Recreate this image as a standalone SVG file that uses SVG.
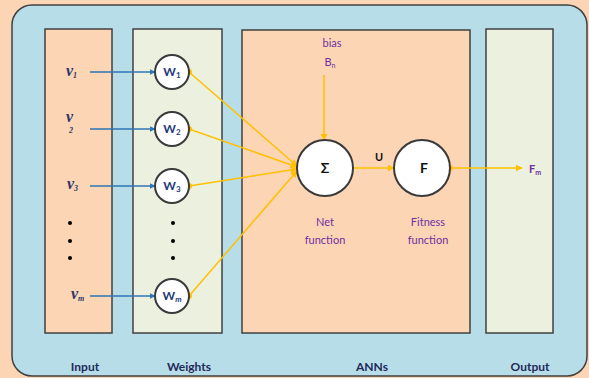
<svg xmlns="http://www.w3.org/2000/svg" width="589" height="378" viewBox="0 0 589 378">
  <style>
    .panel { stroke: #404040; stroke-width: 1.5; }
    .peach { fill: #fcd5b5; }
    .green { fill: #ebf1de; }
    .node { fill: #ffffff; stroke: #3a3a3a; stroke-width: 2; }
    .lbl { font-family: Lato, "Open Sans", sans-serif; font-weight: bold; font-size: 12px; fill: #1f2a5a; text-anchor: middle; }
    .purple { font-family: Lato, "Open Sans", sans-serif; font-size: 11px; fill: #7030a0; text-anchor: middle; }
    .var { font-family: "Liberation Serif", "DejaVu Serif", serif; font-style: italic; font-weight: bold; font-size: 16px; fill: #2f3466; }
    .sub { font-size: 8px; }
    .w { font-family: Lato, "Open Sans", sans-serif; font-weight: bold; font-size: 12px; fill: #1f3a7a; text-anchor: middle; }
    .blue { stroke: #2e75b6; stroke-width: 1.5; fill: none; }
    .gold { stroke: #ffc000; stroke-width: 1.5; fill: none; }
    .dot { fill: #000000; }
  </style>
  <defs>
    <marker id="arrBlue" viewBox="0 0 10 10" refX="9" refY="5" markerWidth="6" markerHeight="6" orient="auto" markerUnits="userSpaceOnUse">
      <path d="M0,0 L10,5 L0,10 z" fill="#2e75b6"/>
    </marker>
    <marker id="arrGold" viewBox="0 0 10 10" refX="9" refY="5" markerWidth="7" markerHeight="7" orient="auto" markerUnits="userSpaceOnUse">
      <path d="M0,0 L10,5 L0,10 z" fill="#ffc000"/>
    </marker>
    <marker id="dotGold" viewBox="0 0 10 10" refX="5" refY="5" markerWidth="6" markerHeight="6" markerUnits="userSpaceOnUse">
      <circle cx="5" cy="5" r="5" fill="#ffc000"/>
    </marker>
  </defs>

  <!-- page background and outer frame -->
  <rect x="0" y="0" width="589" height="378" class="peach"/>
  <rect x="12" y="5" width="575" height="371" rx="20" ry="20" fill="#b7dde8" stroke="#404040" stroke-width="1.5"/>

  <!-- layer columns -->
  <g id="col-input"><rect x="45" y="29" width="67" height="304" class="panel peach"/></g>
  <g id="col-weights"><rect x="133" y="29" width="89" height="304" class="panel green"/></g>
  <g id="col-anns"><rect x="242" y="30" width="228" height="303" class="panel peach"/></g>
  <g id="col-output"><rect x="486" y="29" width="67" height="304" class="panel green"/></g>

  <!-- column captions -->
  <text class="lbl" x="85" y="371">Input</text>
  <text class="lbl" x="189" y="371">Weights</text>
  <text class="lbl" x="372" y="371">ANNs</text>
  <text class="lbl" x="530" y="371">Output</text>

  <!-- connectors -->
  <g id="connectors">
    <line class="blue" x1="90" y1="72" x2="155" y2="72" marker-end="url(#arrBlue)"/>
    <line class="blue" x1="90" y1="129" x2="155" y2="129" marker-end="url(#arrBlue)"/>
    <line class="blue" x1="90" y1="186" x2="155" y2="186" marker-end="url(#arrBlue)"/>
    <line class="blue" x1="90" y1="296" x2="155" y2="296" marker-end="url(#arrBlue)"/>
    <line class="gold" x1="189" y1="72" x2="297" y2="166" marker-start="url(#dotGold)" marker-end="url(#arrGold)"/>
    <line class="gold" x1="189" y1="129" x2="297" y2="167" marker-start="url(#dotGold)" marker-end="url(#arrGold)"/>
    <line class="gold" x1="189" y1="186" x2="297" y2="169" marker-start="url(#dotGold)" marker-end="url(#arrGold)"/>
    <line class="gold" x1="189" y1="296" x2="297" y2="171" marker-start="url(#dotGold)" marker-end="url(#arrGold)"/>
    <line class="gold" x1="324" y1="75" x2="324" y2="140" marker-end="url(#arrGold)"/>
    <line class="gold" x1="353" y1="168" x2="394" y2="168" marker-end="url(#arrGold)"/>
    <line class="gold" x1="450" y1="168" x2="522" y2="168" marker-start="url(#dotGold)" marker-end="url(#arrGold)"/>
  </g>

  <!-- inputs -->
  <g id="in-v1"><text class="var" x="66" y="76">v<tspan class="sub" dy="2">1</tspan></text></g>
  <g id="in-v2"><text class="var" x="66" y="122">v</text><text class="var sub" x="69" y="133">2</text></g>
  <g id="in-v3"><text class="var" x="67" y="189">v<tspan class="sub" dy="2">3</tspan></text></g>
  <g id="in-dots">
    <circle class="dot" cx="70" cy="223" r="2"/>
    <circle class="dot" cx="70" cy="241" r="2"/>
    <circle class="dot" cx="70" cy="258" r="2"/>
  </g>
  <g id="in-vm"><text class="var" x="71" y="299">v<tspan class="sub" dy="2">m</tspan></text></g>

  <!-- weight nodes -->
  <g id="w1"><circle class="node" cx="172" cy="72" r="17"/><text class="w" x="172" y="76">W<tspan class="sub" dy="2">1</tspan></text></g>
  <g id="w2"><circle class="node" cx="172" cy="129" r="17"/><text class="w" x="172" y="133">W<tspan class="sub" dy="2">2</tspan></text></g>
  <g id="w3"><circle class="node" cx="172" cy="186" r="17"/><text class="w" x="172" y="190">W<tspan class="sub" dy="2">3</tspan></text></g>
  <g id="w-dots">
    <circle class="dot" cx="173" cy="223" r="2"/>
    <circle class="dot" cx="173" cy="241" r="2"/>
    <circle class="dot" cx="173" cy="258" r="2"/>
  </g>
  <g id="wm"><circle class="node" cx="172" cy="296" r="17"/><text class="w" x="172" y="300">W<tspan class="sub" dy="2" font-style="italic">m</tspan></text></g>

  <!-- bias -->
  <g id="bias">
    <text class="purple" x="332" y="47">bias</text>
    <text class="purple" x="330" y="66">B<tspan font-size="7" dy="2">n</tspan></text>
  </g>

  <!-- net function -->
  <g id="sum">
    <circle class="node" cx="325" cy="168" r="28"/>
    <text x="325" y="173" font-family="Lato, 'Open Sans', sans-serif" font-weight="bold" font-size="14" fill="#111" text-anchor="middle">Σ</text>
    <text class="purple" x="325" y="226">Net</text>
    <text class="purple" x="325" y="244">function</text>
  </g>
  <text x="379" y="161" font-family="Lato, 'Open Sans', sans-serif" font-weight="bold" font-size="11" fill="#111" text-anchor="middle">U</text>

  <!-- fitness function -->
  <g id="fitness">
    <circle class="node" cx="422" cy="168" r="28"/>
    <text x="424" y="173" font-family="Lato, 'Open Sans', sans-serif" font-weight="bold" font-size="14" fill="#111" text-anchor="middle">F</text>
    <text class="purple" x="428" y="226">Fitness</text>
    <text class="purple" x="428" y="244">function</text>
  </g>

  <!-- output -->
  <g id="out-fm"><text x="529" y="173" font-family="Lato, 'Open Sans', sans-serif" font-weight="bold" font-size="11" fill="#7030a0">F<tspan font-size="7" dy="2">m</tspan></text></g>
</svg>
